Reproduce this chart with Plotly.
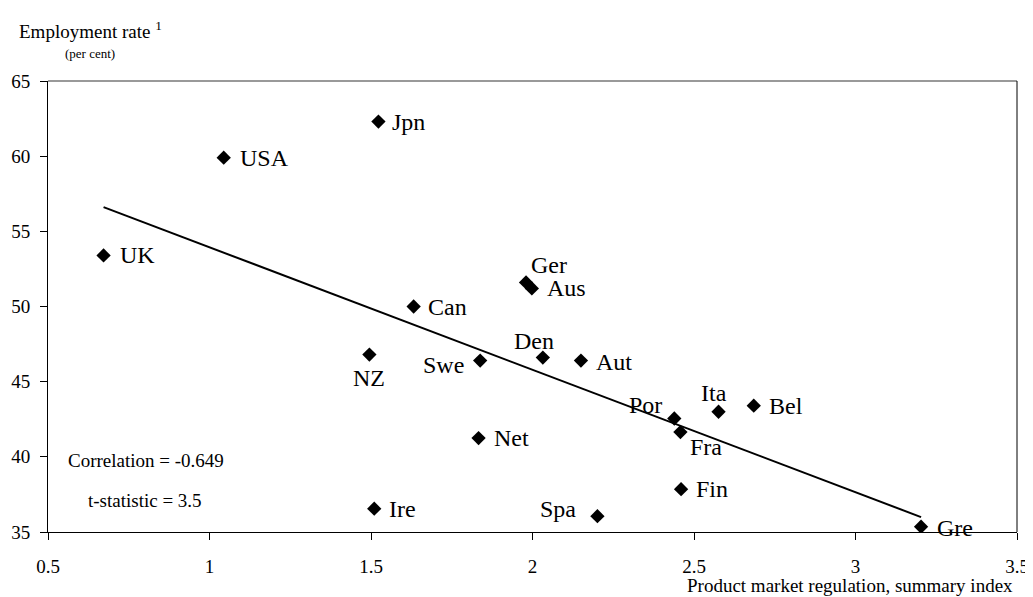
import numpy as np
import plotly.graph_objs as go

# =========================
# DATOS
# =========================
paises = ["Jpn", "USA", "UK", "Ger", "Aus", "Can", "NZ", "Swe", "Den", "Aut",
          "Net", "Por", "Fra", "Ita", "Bel", "Fin", "Ire", "Spa", "Gre"]
regulacion = [1.523, 1.044, 0.672, 1.980, 1.998, 1.632, 1.495, 1.838, 2.032, 2.150,
              1.833, 2.439, 2.458, 2.576, 2.685, 2.460, 1.510, 2.201, 3.203]
empleo = [62.3, 59.9, 53.4, 51.6, 51.2, 50.0, 46.8, 46.4, 46.6, 46.4,
          41.25, 42.55, 41.65, 43.0, 43.4, 37.85, 36.55, 36.05, 35.35]

x_ticks = [0.5, 1, 1.5, 2, 2.5, 3, 3.5]
y_ticks = [35, 40, 45, 50, 55, 60, 65]

correlacion = "Correlation = -0.649"
t_stat = "t-statistic = 3.5"

# =========================
# ESTILO
# =========================
FUENTE = "Liberation Serif, Times New Roman, serif"

# posicion de cada etiqueta respecto al marcador: (xanchor, xshift, yshift)
POS_ETIQUETA = {
    "Jpn": ("left", 12, 0), "USA": ("left", 14, 0), "UK": ("left", 14, 0),
    "Ger": ("center", 23, 17), "Aus": ("left", 13, 0), "Can": ("left", 12, 0),
    "NZ": ("center", 0, -23), "Swe": ("right", -14, -4), "Den": ("center", -9, 17),
    "Aut": ("left", 13, -1), "Net": ("left", 13, 0), "Por": ("right", -10, 14),
    "Fra": ("left", 8, -15), "Ita": ("center", -5, 19), "Bel": ("left", 13, 0),
    "Fin": ("left", 13, 0), "Ire": ("left", 13, 0), "Spa": ("right", -19, 7),
    "Gre": ("left", 14, -1),
}

# -----------------
# Recta de tendencia
# -----------------
pendiente, intercepto = np.polyfit(regulacion, empleo, 1)
x_tend = np.array([min(regulacion), max(regulacion)])
y_tend = intercepto + pendiente * x_tend

fig = go.Figure()
fig.add_trace(go.Scatter(
    x=x_tend, y=y_tend, mode="lines",
    line=dict(color="black", width=2),
    hoverinfo="skip", showlegend=False
))
fig.add_trace(go.Scatter(
    x=regulacion, y=empleo, mode="markers",
    marker=dict(symbol="diamond", size=11, color="black"),
    text=paises, showlegend=False
))

anotaciones = []
for p, xv, yv in zip(paises, regulacion, empleo):
    anc, dx, dy = POS_ETIQUETA[p]
    anotaciones.append(dict(
        x=xv, y=yv, text=p, showarrow=False,
        xanchor=anc, yanchor="middle", xshift=dx, yshift=dy,
        font=dict(family=FUENTE, size=24, color="black")
    ))

anotaciones += [
    dict(x=-0.032, y=1.113, xref="paper", yref="paper", showarrow=False,
         text="Employment rate <sup>1</sup>", xanchor="left", yanchor="middle",
         font=dict(family=FUENTE, size=19, color="black")),
    dict(x=0.0433, y=1.062, xref="paper", yref="paper", showarrow=False,
         text="(per cent)", xanchor="center", yanchor="middle",
         font=dict(family=FUENTE, size=13, color="black")),
    dict(x=1.0, y=0, xref="paper", yref="paper", showarrow=False,
         text="Product market regulation, summary index",
         xanchor="right", yanchor="middle", xshift=-2, yshift=-53,
         font=dict(family=FUENTE, size=19, color="black")),
    dict(x=0.0186, y=0.159, xref="paper", yref="paper", showarrow=False,
         text=correlacion, xanchor="left", yanchor="middle",
         font=dict(family=FUENTE, size=19, color="black")),
    dict(x=0.039, y=0.070, xref="paper", yref="paper", showarrow=False,
         text=t_stat, xanchor="left", yanchor="middle",
         font=dict(family=FUENTE, size=19, color="black")),
]

# la pagina tiene 8px de margen en el body: se descuenta aqui
fig.update_layout(
    width=1025, height=589,
    margin=dict(l=40, r=16, t=73, b=65),
    paper_bgcolor="white", plot_bgcolor="white",
    font=dict(family=FUENTE, size=19, color="black"),
    annotations=anotaciones,
    shapes=[
        dict(type="line", xref="paper", yref="paper", x0=0, x1=1, y0=1, y1=1,
             line=dict(color="#777777", width=1.5)),
        dict(type="line", xref="paper", yref="paper", x0=1, x1=1, y0=0, y1=1,
             line=dict(color="black", width=1)),
    ],
    xaxis=dict(
        range=[0.5, 3.5], tickvals=x_ticks, showgrid=False, zeroline=False,
        showline=True, linecolor="black", linewidth=1,
        ticks="outside", ticklen=7, tickcolor="black",
        ticklabelstandoff=10, automargin=False
    ),
    yaxis=dict(
        range=[35, 65], tickvals=y_ticks, showgrid=False, zeroline=False,
        showline=True, linecolor="black", linewidth=1,
        ticks="outside", ticklen=7, tickcolor="black",
        ticklabelstandoff=6, automargin=False
    ),
)

fig.write_html("out.html")
